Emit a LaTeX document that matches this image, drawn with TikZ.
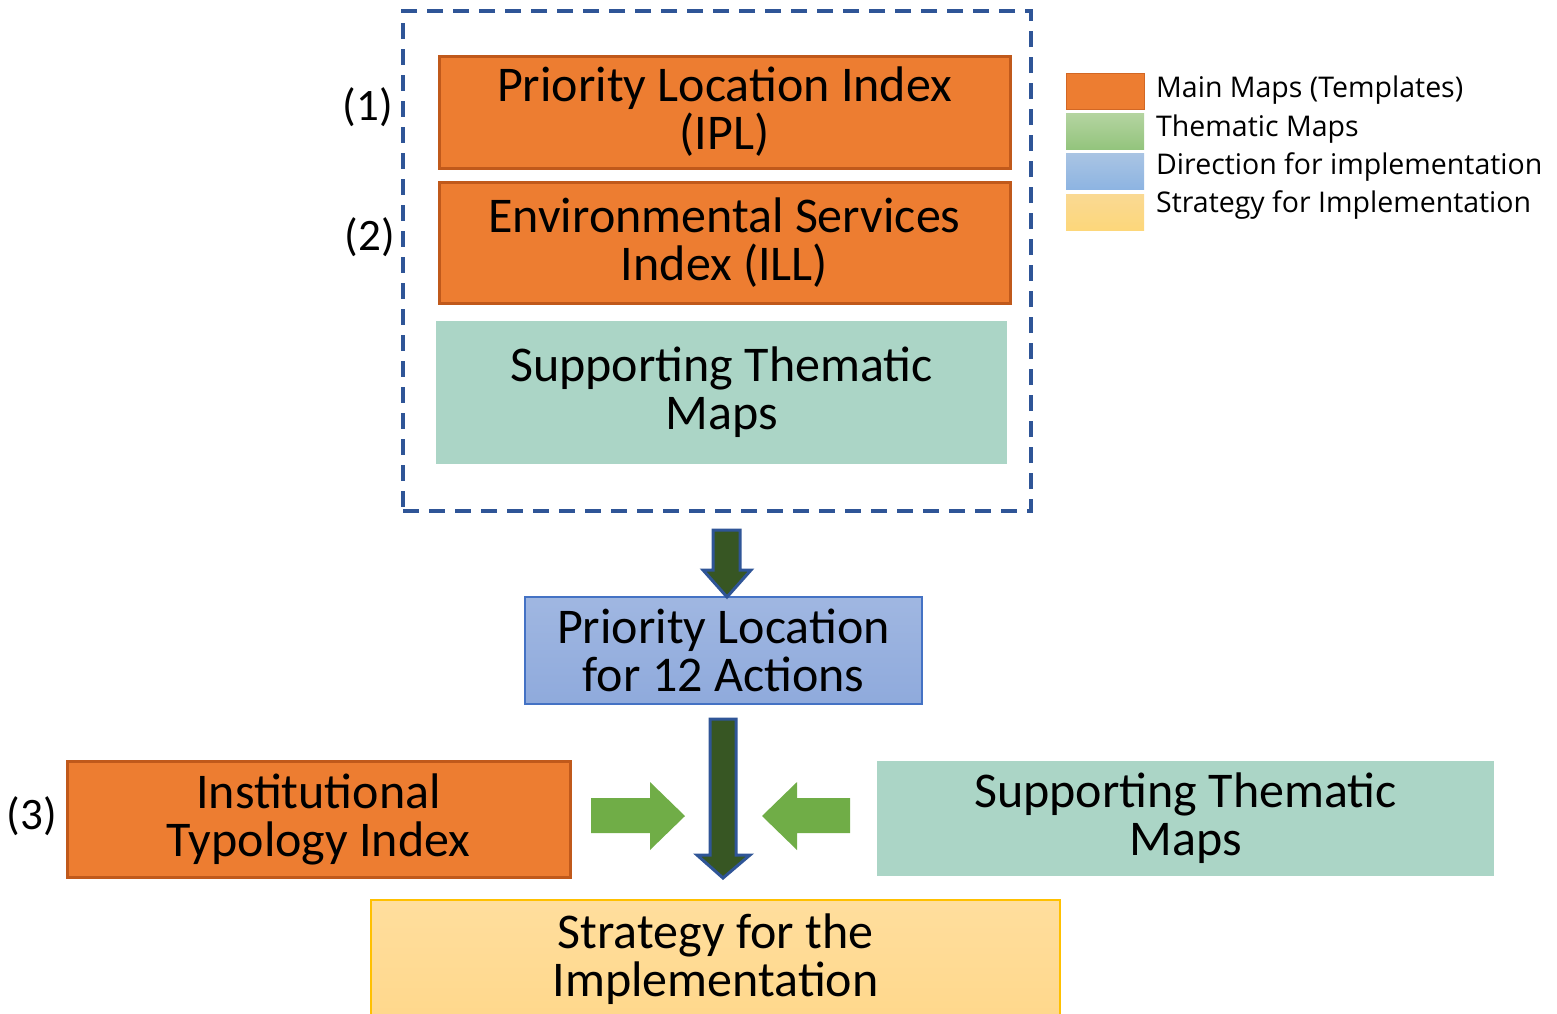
\documentclass[tikz,border=0pt]{standalone}
\usepackage{fontspec}
\setmainfont{Carlito}
\newfontfamily\legendfont{Open Sans}
\usepackage{xcolor}
\definecolor{mainorange}{HTML}{ED7D31}
\definecolor{mainedge}{HTML}{C0591B}
\definecolor{thematic}{HTML}{ABD5C6}
\definecolor{dirblue}{HTML}{8FAADC}
\definecolor{diredge}{HTML}{4472C4}
\definecolor{stratyellow}{HTML}{FFD88C}
\definecolor{stratedge}{HTML}{FFC000}
\definecolor{darkgreen}{HTML}{375623}
\definecolor{arrowgreen}{HTML}{70AD47}
\definecolor{navy}{HTML}{2F5597}

\tikzset{
  boxtext/.style={align=center, font=\fontsize{50}{48}\selectfont, inner sep=0pt},
  mainbox/.style={boxtext, rectangle, fill=mainorange, draw=mainedge, line width=3pt},
  themebox/.style={boxtext, rectangle, fill=thematic},
  dirbox/.style={boxtext, rectangle, top color=dirblue!85!white, bottom color=dirblue, draw=diredge, line width=1.5pt},
  stratbox/.style={boxtext, rectangle, top color=stratyellow!85!white, bottom color=stratyellow, draw=stratedge, line width=1.5pt},
  numlabel/.style={font=\fontsize{45}{46}\selectfont, inner sep=0pt},
  legendtext/.style={font=\legendfont\fontsize{28.5}{30}\selectfont, anchor=west, inner sep=0pt},
  swatch/.style={rectangle, minimum width=78pt, minimum height=36pt, inner sep=0pt},
  flowarrow/.style={fill=darkgreen, draw=navy, line width=3pt, line join=miter},
  sidearrow/.style={fill=arrowgreen}
}

\begin{document}
\begin{tikzpicture}[x=1pt,y=-1pt]
\useasboundingbox (0,0) rectangle (1557,1013);

% group of maps
\node[rectangle, draw=navy, line width=4pt, dash pattern=on 16pt off 10pt, minimum width=628pt, minimum height=500pt] (group) at (717,261) {};
\node[mainbox, minimum width=571pt, minimum height=112pt] (ipl) at (724.5,112) {Priority Location Index\\(IPL)};
\node[mainbox, minimum width=571pt, minimum height=121pt] (ill) at (724.5,242.5) {Environmental Services\\Index (ILL)};
\node[themebox, minimum width=571pt, minimum height=143pt] (themetop) at (721.5,392.5) {Supporting Thematic\\Maps};
\node[numlabel] (n1) at (368,107) {(1)};
\node[numlabel] (n2) at (370,237) {(2)};

% middle and bottom
\node[dirbox, minimum width=397pt, minimum height=107pt] (direction) at (723.5,650.5) {Priority Location\\for 12 Actions};
\node[mainbox, minimum width=503pt, minimum height=116pt] (inst) at (318.5,819) {Institutional\\Typology Index};
\node[numlabel] (n3) at (32,816) {(3)};
\node[themebox, minimum width=617pt, minimum height=115pt] (themeright) at (1185.5,818.5) {Supporting Thematic\\Maps};
\node[stratbox, minimum width=689pt, minimum height=118pt] (strategy) at (715.5,959) {Strategy for the\\Implementation};

% block arrows
\draw[flowarrow] (713,530) -- (740,530) -- (740,570) -- (751,570) -- (727,597) -- (703,570) -- (713,570) -- cycle;
\draw[flowarrow] (710,719) -- (736,719) -- (736,855) -- (750,855) -- (723,878) -- (697,855) -- (710,855) -- cycle;
\fill[sidearrow] (591,798) -- (650,798) -- (650,782) -- (685,816) -- (650,850) -- (650,833) -- (591,833) -- cycle;
\fill[sidearrow] (850,798) -- (797,798) -- (797,782) -- (762,816) -- (797,850) -- (797,833) -- (850,833) -- cycle;

% legend
\node[swatch, fill=mainorange, draw=mainedge!60!mainorange, line width=1pt] (kmain) at (1105,91) {};
\node[swatch, top color={rgb,255:red,180;green,212;blue,160}, bottom color={rgb,255:red,147;green,196;blue,125}] (ktheme) at (1105,131.5) {};
\node[swatch, top color={rgb,255:red,169;green,196;blue,227}, bottom color={rgb,255:red,141;green,180;blue,226}] (kdir) at (1105,171.5) {};
\node[swatch, top color={rgb,255:red,250;green,217;blue,147}, bottom color={rgb,255:red,253;green,215;blue,122}] (kstrat) at (1105,212.5) {};
\node[legendtext] (lmain) at (1156,90) {Main Maps (Templates)};
\node[legendtext] (ltheme) at (1156,129) {Thematic Maps};
\node[legendtext] (ldir) at (1156,167) {Direction for implementation};
\node[legendtext] (lstrat) at (1156,205) {Strategy for Implementation};
\end{tikzpicture}
\end{document}
